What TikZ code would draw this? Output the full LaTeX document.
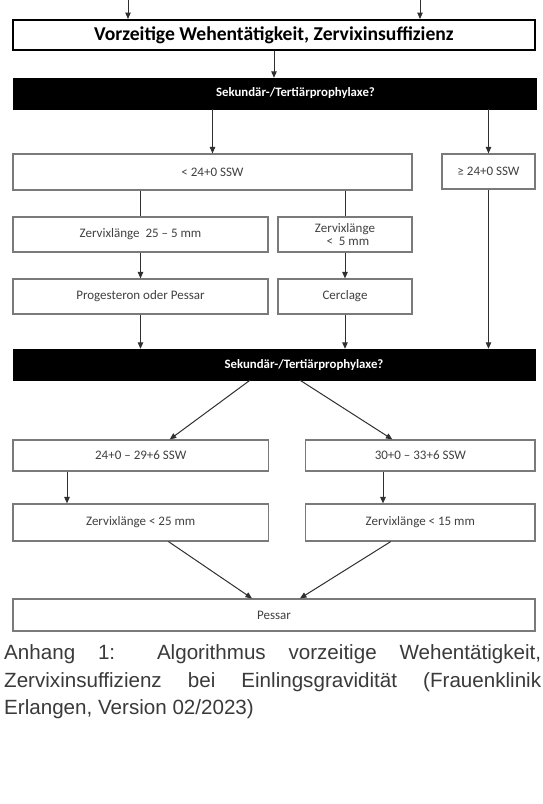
\documentclass[tikz,border=0pt]{standalone}
\usepackage{fontspec}
\setmainfont{Carlito}
\newfontfamily\capfont{Liberation Sans}
\usetikzlibrary{arrows.meta}
\definecolor{bordergray}{HTML}{7A7A7A}
\definecolor{textgray}{HTML}{404040}
\definecolor{linegray}{HTML}{303030}
\definecolor{capgray}{HTML}{3A3A3A}
\tikzset{
  bx/.style={draw=bordergray, line width=1.2pt, inner sep=0pt, fill=white,
    text=textgray, font=\fontsize{13}{14}\selectfont, align=center},
  titlebox/.style={draw=black, line width=2pt, inner sep=0pt, fill=white,
    text=black, font=\bfseries\fontsize{19.6}{21}\selectfont},
  blackbox/.style={draw=black, fill=black, inner sep=0pt, text=white,
    font=\bfseries\fontsize{12.8}{14}\selectfont},
  arr/.style={draw=linegray, line width=1pt, -{Triangle[length=6.5pt,width=5.5pt]}},
  ln/.style={draw=linegray, line width=1pt},
  captext/.style={anchor=base west, inner sep=0pt, text=capgray,
    font=\capfont\fontsize{20.6}{27.5}\selectfont}
}
\begin{document}
\begin{tikzpicture}[x=1pt,y=-1pt]
\useasboundingbox[fill=white] (0,0) rectangle (543,804);
% top box and entry points
\coordinate (inA) at (128,0);
\coordinate (inB) at (420,0);
\node[titlebox, minimum width=522pt, minimum height=30pt] (top) at (274,35) {Vorzeitige Wehentätigkeit, Zervixinsuffizienz};
\node[blackbox, minimum width=523pt, minimum height=31pt] (bb1) at (274.5,93.5) {\hspace*{42pt}Sekundär-/Tertiärprophylaxe?};
\node[bx, minimum width=399pt, minimum height=36pt] (lt) at (212.5,172) {< 24+0 SSW};
\node[bx, minimum width=93pt, minimum height=35pt] (ge) at (488.5,171.5) {≥ 24+0 SSW};
\node[bx, minimum width=255pt, minimum height=35pt] (z1) at (140.5,234.5) {Zervixlänge\ \ 25 – 5 mm};
\node[bx, minimum width=134pt, minimum height=35pt] (z2) at (345,234.5) {Zervixlänge\\[-1pt]\ \ <\ \ 5 mm};
\node[bx, minimum width=255pt, minimum height=35pt] (p1) at (140.5,296.5) {Progesteron oder Pessar};
\node[bx, minimum width=134pt, minimum height=35pt] (p2) at (345,296.5) {Cerclage};
\node[blackbox, minimum width=522pt, minimum height=31pt] (bb2) at (274,364.5) {\hspace*{60pt}Sekundär-/Tertiärprophylaxe?};
\node[bx, minimum width=255.5pt, minimum height=31pt] (b1) at (140.75,455.5) {24+0 – 29+6 SSW};
\node[bx, minimum width=229.3pt, minimum height=31pt] (b2) at (420.35,455.5) {30+0 – 33+6 SSW};
\node[bx, minimum width=255.5pt, minimum height=37pt] (c1) at (140.75,522.5) {Zervixlänge < 25 mm};
\node[bx, minimum width=229.3pt, minimum height=37pt] (c2) at (420.35,522.5) {Zervixlänge < 15 mm};
\node[bx, minimum width=522pt, minimum height=32pt] (pe) at (274,615) {Pessar};
% connectors
\draw[arr] (inA) -- (inA |- top.north);
\draw[arr] (inB) -- (inB |- top.north);
\draw[arr] (top.south) -- (top.south |- bb1.north);
\draw[arr] (bb1.south -| lt.north) -- (lt.north);
\draw[arr] (bb1.south -| ge.north) -- (ge.north);
\draw[ln] (lt.south -| z1.north) -- (z1.north);
\draw[ln] (lt.south -| z2.north) -- (z2.north);
\draw[arr] (z1.south) -- (p1.north);
\draw[arr] (z2.south) -- (p2.north);
\draw[arr] (p1.south) -- (p1.south |- bb2.north);
\draw[arr] (p2.south) -- (p2.south |- bb2.north);
\draw[arr] (ge.south) -- (ge.south |- bb2.north);
\draw[arr] ([xshift=-24pt]bb2.south) -- ([xshift=29pt]b1.north);
\draw[arr] ([xshift=26pt]bb2.south) -- ([xshift=-28pt]b2.north);
\draw[arr] ([xshift=-73.75pt]b1.south) -- ([xshift=-73.75pt]c1.north);
\draw[arr] ([xshift=-37.35pt]b2.south) -- ([xshift=-37.35pt]c2.north);
\draw[arr] ([xshift=27.75pt]c1.south) -- ([xshift=-22pt]pe.north);
\draw[arr] ([xshift=-29.65pt]c2.south) -- ([xshift=26pt]pe.north);
% caption
\node[captext] (cap1) at (4,659) {\makebox[537pt][s]{Anhang 1: Algorithmus vorzeitige Wehentätigkeit,}};
\node[captext] (cap2) at (4,687) {\makebox[537pt][s]{Zervixinsuffizienz bei Einlingsgravidität (Frauenklinik}};
\node[captext] (cap3) at (4,714) {Erlangen, Version 02/2023)};
\end{tikzpicture}
\end{document}
